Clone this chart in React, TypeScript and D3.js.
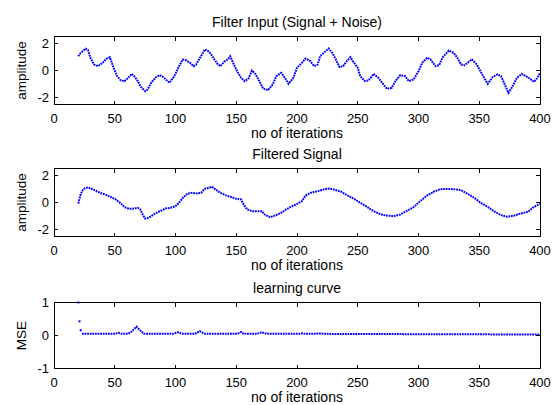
import React from 'react';
import * as d3 from 'd3';

const xTicks = [0, 50, 100, 150, 200, 250, 300, 350, 400];
const ampTicks = [-2, 0, 2];
const mseTicks = [-1, 0, 1];

const inputIter = [20, 22, 26, 28, 30, 33, 36, 40, 43, 46, 49, 52, 55, 58, 61, 64, 66, 69, 71, 75, 77, 80, 84, 87, 90, 95, 99, 103, 106, 109, 112, 115, 117, 121, 124, 127, 129, 132, 135, 137, 140, 143, 145, 148, 151, 154, 157, 160, 163, 166, 169, 172, 176, 180, 183, 187, 190, 193, 197, 200, 204, 207, 211, 214, 217, 219, 223, 226, 229, 232, 235, 238, 241, 244, 246, 250, 252, 256, 259, 263, 267, 270, 274, 278, 281, 285, 289, 292, 296, 300, 303, 307, 310, 314, 317, 320, 325, 329, 332, 335, 338, 342, 344, 348, 351, 354, 357, 361, 365, 368, 371, 374, 377, 381, 385, 390, 395, 398, 400];
const inputAmp = [1.05, 1.3, 1.6, 1.5, 0.93, 0.44, 0.32, 0.56, 0.86, 0.98, 0.2, -0.42, -0.73, -0.78, -0.54, -0.25, -0.42, -0.78, -1.15, -1.52, -1.4, -0.9, -0.49, -0.34, -0.49, -0.9, -0.42, 0.32, 0.81, 0.74, 0.56, 0.32, 0.44, 1.05, 1.54, 1.42, 1.23, 0.81, 0.44, 0.32, 0.64, 0.81, 1.05, 0.44, -0.1, -0.54, -0.78, -0.59, 0, -0.29, -0.78, -1.32, -1.45, -1.03, -0.42, -0.17, -0.54, -0.98, -0.54, 0.2, 0.56, 0.88, 0.69, 0.32, 0.44, 1.05, 1.37, 1.62, 1.3, 0.81, 0.25, 0.32, 0.69, 0.98, 0.69, 0.2, -0.42, -0.78, -0.73, -0.25, -0.54, -0.9, -1.35, -1.27, -0.78, -0.34, -0.42, -0.78, -0.66, -0.05, 0.56, 0.93, 0.81, 0.32, 0.39, 0.98, 1.47, 1.3, 0.93, 0.44, 0.39, 0.69, 0.81, 0.44, -0.05, -0.54, -0.98, -0.49, -0.29, -0.42, -1.03, -1.64, -1.23, -0.54, -0.25, -0.49, -0.83, -0.54, -0.17];

const filteredIter = [20, 21, 22, 23, 25, 27, 30, 34, 38, 43, 47, 51, 55, 58, 62, 66, 69, 71, 73, 75, 78, 82, 87, 92, 96, 100, 103, 106, 110, 114, 118, 121, 124, 128, 130, 133, 137, 141, 145, 150, 154, 156, 159, 163, 167, 171, 174, 178, 182, 187, 191, 195, 200, 204, 207, 211, 217, 222, 226, 230, 236, 241, 247, 252, 258, 263, 269, 274, 280, 285, 291, 296, 302, 307, 313, 318, 324, 329, 335, 340, 346, 351, 357, 362, 368, 373, 379, 384, 390, 395, 400];
const filteredAmp = [-0.07, 0.29, 0.59, 0.83, 1.03, 1.1, 1.05, 0.88, 0.71, 0.56, 0.39, 0.22, -0.07, -0.34, -0.47, -0.44, -0.39, -0.51, -0.88, -1.18, -1.13, -0.88, -0.64, -0.44, -0.39, -0.27, -0.02, 0.34, 0.66, 0.71, 0.66, 0.71, 1.0, 1.1, 1.15, 0.96, 0.71, 0.54, 0.42, 0.27, 0.22, -0.15, -0.51, -0.64, -0.64, -0.64, -0.93, -1.08, -0.96, -0.76, -0.51, -0.32, -0.1, 0.1, 0.51, 0.71, 0.83, 0.96, 1.03, 0.96, 0.81, 0.54, 0.27, -0.02, -0.34, -0.64, -0.88, -0.96, -1.0, -0.88, -0.59, -0.34, 0.15, 0.51, 0.81, 0.98, 1.0, 0.98, 0.91, 0.66, 0.34, -0.02, -0.32, -0.64, -0.93, -1.05, -0.96, -0.81, -0.69, -0.32, -0.1];

const mseStartIter = [20, 21, 22];
const mseStartVal = [1.0, 0.43, 0.16];
const mseIter = [23, 50, 53, 56, 61, 64, 68, 71, 74, 98, 102, 106, 116, 120, 124, 151, 154, 156, 167, 171, 175, 202, 204, 206, 216, 218, 220, 300, 400];
const mseVal = [0.05, 0.05, 0.08, 0.05, 0.05, 0.12, 0.27, 0.15, 0.05, 0.05, 0.1, 0.05, 0.05, 0.13, 0.05, 0.05, 0.11, 0.05, 0.05, 0.1, 0.05, 0.05, 0.07, 0.05, 0.05, 0.07, 0.05, 0.04, 0.03];

const FONT = 'Liberation Sans, Arial, sans-serif';
const BLUE = '#0000ff';
const X0 = 54;
const X1 = 540;

type PanelProps = {
  top: number;
  bottom: number;
  title: string;
  ylabel: string;
  yDomain: [number, number];
  yTicks: number[];
  lines: { iters: number[]; vals: number[] }[];
  dots?: { iters: number[]; vals: number[] };
};

function Panel({ top, bottom, title, ylabel, yDomain, yTicks, lines, dots }: PanelProps) {
  const x = d3.scaleLinear().domain([0, 400]).range([X0, X1]);
  const y = d3.scaleLinear().domain(yDomain).range([bottom, top]);
  const tl = 4;
  const midY = (top + bottom) / 2;
  return (
    <g>
      <defs>
        <clipPath id={`clip-${Math.round(top)}`}>
          <rect x={X0} y={top - 2} width={X1 - X0 + 1} height={bottom - top + 2} />
        </clipPath>
      </defs>
      <g clipPath={`url(#clip-${Math.round(top)})`} shapeRendering="geometricPrecision">
        {lines.map((s, k) => {
          const pts: [number, number][] = s.iters.map((it, i) => [x(it), y(s.vals[i])]);
          const p = d3.line()(pts) || '';
          return (
            <path
              key={k}
              d={p}
              fill="none"
              stroke={BLUE}
              strokeWidth={2}
              strokeDasharray="1.8 0.8"
            />
          );
        })}
        {dots &&
          dots.iters.map((it, i) => (
            <rect key={i} x={x(it) - 1} y={y(dots.vals[i]) - 1} width={2} height={2} fill={BLUE} />
          ))}
      </g>
      <g shapeRendering="crispEdges">
        {xTicks.map((t) => (
          <g key={'x' + t}>
            <line x1={x(t)} x2={x(t)} y1={bottom} y2={bottom - tl} stroke="#000" strokeWidth={1} />
            <line x1={x(t)} x2={x(t)} y1={top} y2={top + tl} stroke="#000" strokeWidth={1} />
          </g>
        ))}
        {yTicks.map((t) => (
          <g key={'y' + t}>
            <line x1={X0} x2={X0 + tl} y1={y(t)} y2={y(t)} stroke="#000" strokeWidth={1} />
            <line x1={X1} x2={X1 - tl} y1={y(t)} y2={y(t)} stroke="#000" strokeWidth={1} />
          </g>
        ))}
        <rect x={X0} y={top} width={X1 - X0} height={bottom - top} fill="none" stroke="#000" strokeWidth={1} />
      </g>
      {xTicks.map((t) => (
        <text key={'xl' + t} x={x(t)} y={bottom + 18} textAnchor="middle" fontFamily={FONT} fontSize={13} fill="#000">
          {t}
        </text>
      ))}
      {yTicks.map((t) => (
        <text key={'yl' + t} x={X0 - 5} y={y(t) + 4.5} textAnchor="end" fontFamily={FONT} fontSize={13} fill="#000">
          {t}
        </text>
      ))}
      <text x={(X0 + X1) / 2} y={top - 10} textAnchor="middle" fontFamily={FONT} fontSize={14} fill="#000">
        {title}
      </text>
      <text x={(X0 + X1) / 2} y={bottom + 33} textAnchor="middle" fontFamily={FONT} fontSize={14} fill="#000">
        no of iterations
      </text>
      <text
        transform={`translate(${26},${midY}) rotate(-90)`}
        textAnchor="middle"
        fontFamily={FONT}
        fontSize={13.5}
        fill="#000"
      >
        {ylabel}
      </text>
    </g>
  );
}

export default function App() {
  return (
    <svg width={556} height={405} style={{ position: 'absolute', left: 0, top: 0, background: '#fff' }}>
      <rect x={0} y={0} width={556} height={405} fill="#fff" />
      <Panel
        top={36.5}
        bottom={104.5}
        title="Filter Input (Signal + Noise)"
        ylabel="amplitude"
        yDomain={[-2.5, 2.5]}
        yTicks={ampTicks}
        lines={[{ iters: inputIter, vals: inputAmp }]}
      />
      <Panel
        top={168.5}
        bottom={236.5}
        title="Filtered Signal"
        ylabel="amplitude"
        yDomain={[-2.5, 2.5]}
        yTicks={ampTicks}
        lines={[{ iters: filteredIter, vals: filteredAmp }]}
      />
      <Panel
        top={302.5}
        bottom={368.5}
        title="learning curve"
        ylabel="MSE"
        yDomain={[-1, 1]}
        yTicks={mseTicks}
        lines={[{ iters: mseIter, vals: mseVal }]}
        dots={{ iters: mseStartIter, vals: mseStartVal }}
      />
    </svg>
  );
}
